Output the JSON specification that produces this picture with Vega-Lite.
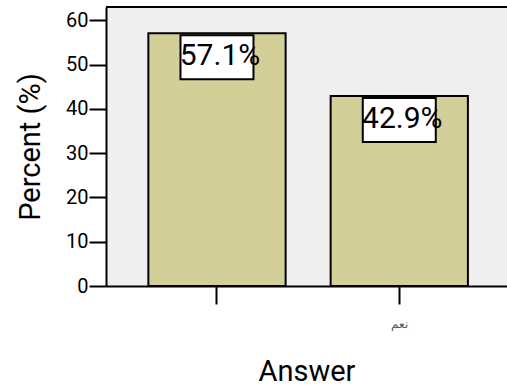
{
  "$schema": "https://vega.github.io/schema/vega-lite/v6.json",
  "autosize": "none",
  "padding": {"left": 106, "top": 7, "right": 0, "bottom": 103},
  "width": 401,
  "height": 279,
  "background": "white",
  "config": {
    "font": "Roboto, sans-serif",
    "view": {"fill": "#efefef", "stroke": null}
  },
  "data": {
    "values": [
      {"answer": " ", "percent": 57.1, "label": "57.1%"},
      {"answer": "نعم", "percent": 42.9, "label": "42.9%"}
    ]
  },
  "layer": [
    {
      "mark": {"type": "bar", "fill": "#d3cf99", "stroke": "black", "strokeWidth": 2},
      "encoding": {
        "x": {
          "field": "answer",
          "type": "nominal",
          "sort": null,
          "scale": {"paddingInner": 0.247, "paddingOuter": 0.2234, "align": 0.52},
          "axis": {
            "title": "Answer",
            "titleFontSize": 29,
            "titleFontWeight": "normal",
            "titleColor": "black",
            "titlePadding": 28,
            "labelAngle": 0,
            "labelFontSize": 12,
            "labelColor": "#555555",
            "labelPadding": 14,
            "tickSize": 18,
            "tickWidth": 2,
            "tickColor": "black",
            "domainColor": "black",
            "domainWidth": 2
          }
        },
        "y": {
          "field": "percent",
          "type": "quantitative",
          "scale": {"domain": [0, 63], "nice": false},
          "axis": {
            "title": "Percent (%)",
            "titleFontSize": 29,
            "titleFontWeight": "normal",
            "titleColor": "black",
            "titlePadding": 20,
            "values": [0, 10, 20, 30, 40, 50, 60],
            "grid": false,
            "labelFontSize": 20,
            "labelColor": "black",
            "labelPadding": 1,
            "tickSize": 17,
            "tickWidth": 2,
            "tickColor": "black",
            "domainColor": "black",
            "domainWidth": 2
          }
        }
      }
    },
    {
      "mark": {"type": "bar", "width": 73, "fill": "white", "stroke": "black", "strokeWidth": 2, "yOffset": 2, "y2Offset": 46},
      "encoding": {
        "x": {"field": "answer", "type": "nominal", "sort": null},
        "y": {"field": "percent", "type": "quantitative"},
        "y2": {"field": "percent"}
      }
    },
    {
      "mark": {"type": "text", "fontSize": 30, "baseline": "middle", "align": "center", "dx": 3, "dy": 23, "color": "black"},
      "encoding": {
        "x": {"field": "answer", "type": "nominal", "sort": null},
        "y": {"field": "percent", "type": "quantitative"},
        "text": {"field": "label"}
      }
    },
    {
      "mark": {"type": "rule", "color": "black", "strokeWidth": 2},
      "encoding": {"y": {"datum": 63}}
    }
  ]
}
